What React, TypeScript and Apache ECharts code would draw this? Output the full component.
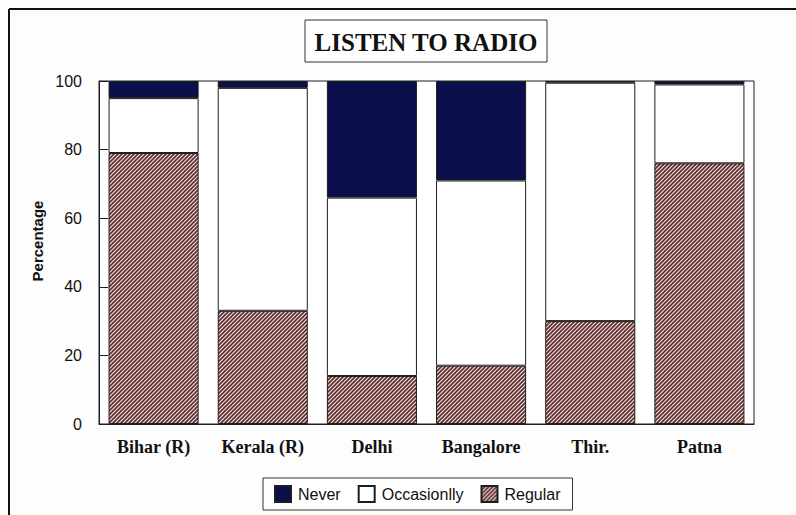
import React, { useEffect, useRef } from "react";
import * as echarts from "echarts";

// Share of listeners (percent) by location
const categories = ["Bihar (R)", "Kerala (R)", "Delhi", "Bangalore", "Thir.", "Patna"];
const regular = [79, 33, 14, 17, 30, 76];
const occasionally = [16, 65, 52, 54, 69.5, 23];
const never = [5, 2, 34, 29, 0.5, 1];
const legendNames = ["Never", "Occasionlly", "Regular"];
const yMin = 0;
const yMax = 100;
const yStep = 20;

const NAVY = "#0b0f4c";
const INK = "#1e1e1e";

// Small repeating tile with "/" diagonal hatching
function hatchTile(): string {
  const s = 4;
  const c = document.createElement("canvas");
  c.width = s;
  c.height = s;
  const ctx = c.getContext("2d")!;
  ctx.fillStyle = "#f1dedc";
  ctx.fillRect(0, 0, s, s);
  ctx.strokeStyle = "#5e2c2c";
  ctx.lineWidth = 1.6;
  ctx.beginPath();
  ctx.moveTo(0, s);
  ctx.lineTo(s, 0);
  ctx.moveTo(-1, 1);
  ctx.lineTo(1, -1);
  ctx.moveTo(s - 1, s + 1);
  ctx.lineTo(s + 1, s - 1);
  ctx.stroke();
  return c.toDataURL();
}

export default function App() {
  const ref = useRef<HTMLDivElement>(null);

  useEffect(() => {
    if (!ref.current) return;
    const chart = echarts.init(ref.current, undefined, { renderer: "svg" });
    const hatch = { image: hatchTile(), repeat: "repeat" } as any;

    const barBase = {
      type: "bar" as const,
      stack: "total",
      barCategoryGap: "17.5%",
      itemStyle: { borderColor: INK, borderWidth: 1 },
    };

    chart.setOption({
      animation: false,
      backgroundColor: "#fdfdfd",
      grid: {
        left: 99,
        right: 42,
        top: 81,
        bottom: 91,
        show: true,
        borderColor: INK,
        borderWidth: 1,
        backgroundColor: "#ffffff",
      },
      legend: {
        data: legendNames,
        left: 263,
        top: 478,
        orient: "horizontal",
        padding: [7, 12, 7, 11],
        itemWidth: 16,
        itemHeight: 16,
        itemGap: 17,
        icon: "rect",
        borderColor: "#333",
        borderWidth: 1,
        backgroundColor: "#ffffff",
        textStyle: {
          fontFamily: "Liberation Sans, Arial, sans-serif",
          fontSize: 16,
          color: "#111",
          padding: [0, 0, 0, 2],
        },
      },
      xAxis: {
        type: "category",
        data: categories,
        z: 5,
        axisLine: { lineStyle: { color: INK, width: 1 } },
        axisTick: { inside: true, alignWithLabel: true, length: 8, lineStyle: { color: INK } },
        axisLabel: {
          margin: 14,
          fontFamily: "Liberation Serif, Times New Roman, serif",
          fontWeight: "bold",
          fontSize: 18,
          color: "#111",
        },
      },
      yAxis: {
        type: "value",
        min: yMin,
        max: yMax,
        interval: yStep,
        z: 5,
        splitLine: { show: false },
        axisLine: { show: true, lineStyle: { color: INK, width: 1 } },
        axisTick: { show: true, inside: true, length: 9, lineStyle: { color: INK } },
        axisLabel: {
          margin: 17,
          fontFamily: "Liberation Sans, Arial, sans-serif",
          fontSize: 16,
          color: "#111",
        },
      },
      series: [
        {
          ...barBase,
          name: "Regular",
          data: regular,
          itemStyle: { ...barBase.itemStyle, color: hatch },
        },
        {
          ...barBase,
          name: "Occasionlly",
          data: occasionally,
          itemStyle: { ...barBase.itemStyle, color: "#ffffff" },
        },
        {
          ...barBase,
          name: "Never",
          data: never,
          itemStyle: { ...barBase.itemStyle, color: NAVY },
        },
      ],
      graphic: [
        // outer frame (top and left edges)
        { type: "line", shape: { x1: 9, y1: 9, x2: 796, y2: 9 }, style: { stroke: "#111", lineWidth: 2 } },
        { type: "line", shape: { x1: 9, y1: 9, x2: 9, y2: 515 }, style: { stroke: "#111", lineWidth: 2 } },
        // boxed title
        {
          type: "rect",
          shape: { x: 305, y: 20, width: 242, height: 42 },
          style: { fill: "#ffffff", stroke: "#333", lineWidth: 1 },
        },
        {
          type: "text",
          x: 426,
          y: 42,
          style: {
            text: "LISTEN TO RADIO",
            fontFamily: "Liberation Serif, Times New Roman, serif",
            fontWeight: "bold",
            fontSize: 25,
            fill: "#111",
            align: "center",
            verticalAlign: "middle",
          },
        },
        // y-axis title
        {
          type: "text",
          x: 37,
          y: 241,
          rotation: Math.PI / 2,
          style: {
            text: "Percentage",
            fontFamily: "Liberation Sans, Arial, sans-serif",
            fontWeight: "bold",
            fontSize: 15,
            fill: "#111",
            align: "center",
            verticalAlign: "middle",
          },
        },
      ],
    });

    return () => chart.dispose();
  }, []);

  return (
    <div
      ref={ref}
      style={{ position: "fixed", left: 0, top: 0, width: 796, height: 515 }}
    />
  );
}
